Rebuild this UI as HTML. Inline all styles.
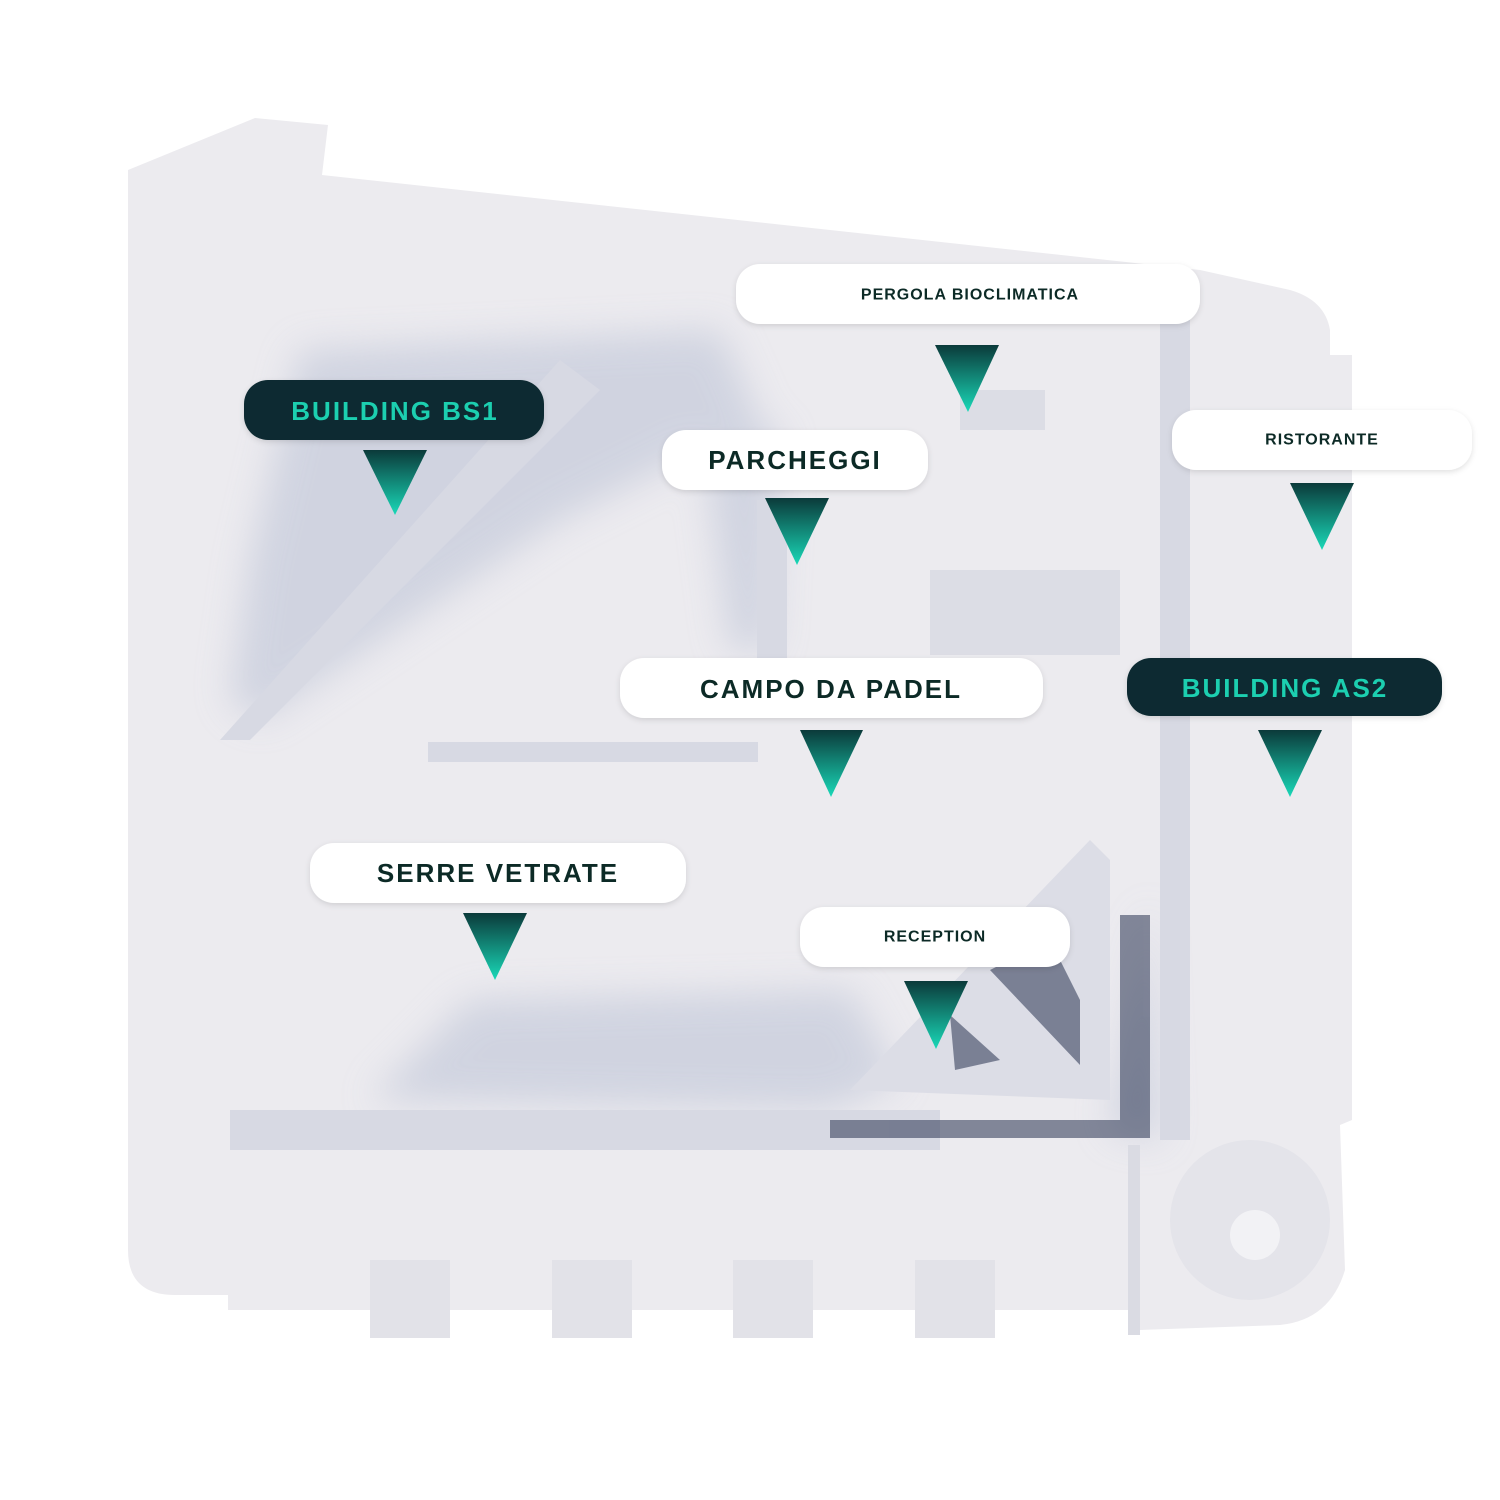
<!DOCTYPE html>
<html><head><meta charset="utf-8"><style>
html,body{margin:0;padding:0;background:#fff;}
svg{display:block}
text{font-family:"Liberation Sans",sans-serif;font-weight:bold;text-anchor:middle;dominant-baseline:central}
</style></head><body>
<svg width="1500" height="1500" viewBox="0 0 1500 1500" xmlns="http://www.w3.org/2000/svg">
<defs>
<linearGradient id="tg" x1="0" y1="0" x2="0" y2="1">
<stop offset="0" stop-color="#0b3a3a"/><stop offset="1" stop-color="#19d9b8"/>
</linearGradient>
<filter id="sh" x="-10%" y="-30%" width="120%" height="160%"><feDropShadow dx="0" dy="2" stdDeviation="3" flood-color="#000" flood-opacity="0.12"/></filter>
<filter id="bl"><feGaussianBlur stdDeviation="18"/></filter>
</defs>
<path d="M128,170 L255,118 L328,125 L322,175 L1200,270 L1290,290 Q1325,300 1330,330 L1330,355 L1352,355 L1352,1120 L1340,1125 L1345,1270 Q1330,1320 1280,1325 L1140,1330 L1140,1310 L228,1310 L228,1295 L175,1295 Q128,1295 128,1250 Z" fill="#ecebef"/>
<g fill="#c7ccdc" opacity="0.75" filter="url(#bl)">
<path d="M300,350 L720,330 L760,420 L560,520 L380,640 L260,720 L230,700 L250,560 Z"/>
<path d="M370,1100 L470,1000 L850,990 L900,1080 L830,1110 Z"/>
<path d="M1110,1130 L1150,900 L1160,1140 Z"/>
<path d="M700,420 L780,430 L770,650 L730,650 Z"/>
</g>
<g fill="#d7d9e3">
<path d="M220,740 L560,360 L600,390 L250,740 Z"/>
<rect x="428" y="742" width="330" height="20"/>
<rect x="757" y="500" width="30" height="160"/>
<path d="M230,1110 L940,1110 L940,1150 L230,1150 Z"/>
<rect x="1160" y="320" width="30" height="820"/>
<path d="M850,1090 L1090,840 L1110,860 L1110,1100 Z" fill="#dcdde6"/>
</g>
<g fill="#2b3552" opacity="0.55">
<path d="M990,970 L1050,940 L1080,1000 L1080,1065 Z"/>
<path d="M950,1015 L1000,1060 L955,1070 Z"/>
<rect x="1120" y="915" width="30" height="220"/>
<rect x="830" y="1120" width="320" height="18"/>
</g>
<rect x="1128" y="1145" width="12" height="190" fill="#dadbe3"/>
<circle cx="1250" cy="1220" r="80" fill="#e4e4ea"/>
<circle cx="1255" cy="1235" r="25" fill="#f2f2f5"/>
<g fill="#e2e2e8">
<rect x="370" y="1260" width="80" height="78"/><rect x="552" y="1260" width="80" height="78"/>
<rect x="733" y="1260" width="80" height="78"/><rect x="915" y="1260" width="80" height="78"/>
</g>
<g fill="#dcdde5">
<rect x="930" y="570" width="190" height="85"/>
<rect x="960" y="390" width="85" height="40"/>
</g>
<g filter="url(#sh)">
<rect x="244" y="380" width="300" height="60" rx="24" fill="#0a2b30"/>
<rect x="736" y="264" width="464" height="60" rx="24" fill="#fff"/>
<rect x="662" y="430" width="266" height="60" rx="24" fill="#fff"/>
<rect x="1172" y="410" width="300" height="60" rx="24" fill="#fff"/>
<rect x="620" y="658" width="423" height="60" rx="24" fill="#fff"/>
<rect x="1127" y="658" width="315" height="58" rx="24" fill="#0a2b30"/>
<rect x="310" y="843" width="376" height="60" rx="24" fill="#fff"/>
<rect x="800" y="907" width="270" height="60" rx="24" fill="#fff"/>
</g>
<g font-size="26" letter-spacing="2">
<text x="395" y="411" fill="#1ccfb0">BUILDING BS1</text>
<text x="1285" y="688" fill="#1ccfb0">BUILDING AS2</text>
<text x="795" y="460" fill="#0c2a26">PARCHEGGI</text>
<text x="831" y="689" fill="#0c2a26">CAMPO DA PADEL</text>
<text x="498" y="873" fill="#0c2a26">SERRE VETRATE</text>
</g>
<g font-size="16" letter-spacing="1" fill="#0c2a26">
<text x="970" y="295">PERGOLA BIOCLIMATICA</text>
<text x="1322" y="440">RISTORANTE</text>
<text x="935" y="937">RECEPTION</text>
</g>
<g fill="url(#tg)">
<path d="M363,450 L427,450 L395,515 Z"/>
<path d="M935,345 L999,345 L968,412 Z"/>
<path d="M765,498 L829,498 L797,565 Z"/>
<path d="M1290,483 L1354,483 L1322,550 Z"/>
<path d="M800,730 L863,730 L831,797 Z"/>
<path d="M1258,730 L1322,730 L1290,797 Z"/>
<path d="M463,913 L527,913 L495,980 Z"/>
<path d="M904,981 L968,981 L936,1049 Z"/>
</g>
</svg>
</body></html>
